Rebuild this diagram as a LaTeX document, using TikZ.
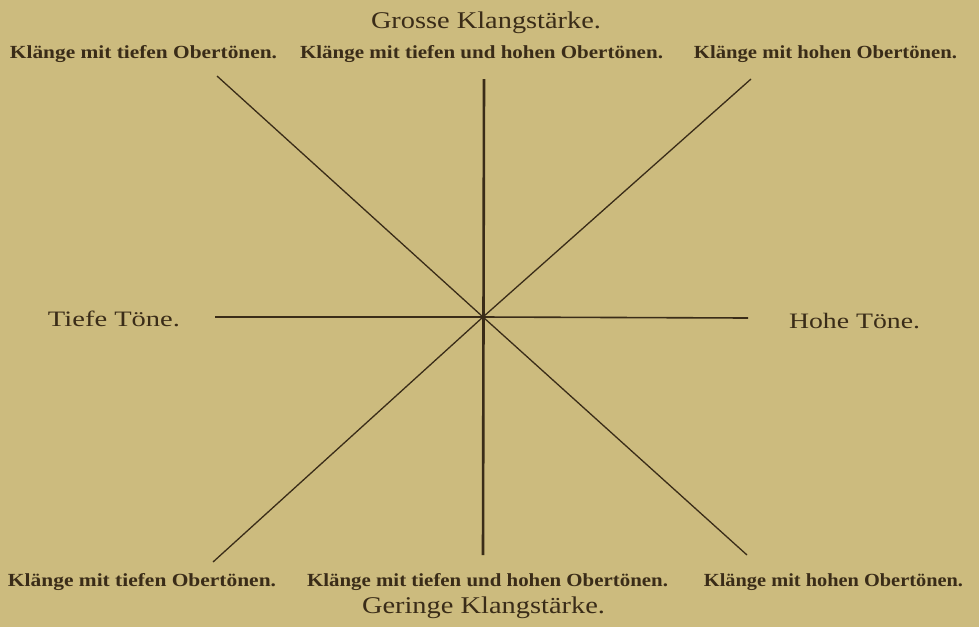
\documentclass[tikz,border=0pt]{standalone}
\usepackage{fontspec}
\usepackage{graphicx}
\setmainfont{Liberation Serif}
\definecolor{paper}{RGB}{204,187,126}
\definecolor{ink}{RGB}{58,44,24}
\newcommand\fitw[2]{\resizebox{#1pt}{\height}{#2}}
\begin{document}
\begin{tikzpicture}[x=1pt,y=-1pt,
  small/.style={anchor=base,inner sep=0pt,text=ink,font=\fontsize{18.5}{18.5}\selectfont\bfseries},
  head/.style={anchor=base,inner sep=0pt,text=ink,font=\fontsize{24}{24}\selectfont},
  side/.style={anchor=base,inner sep=0pt,text=ink,font=\fontsize{22}{22}\selectfont},
  axis/.style={draw=ink,line width=1.6pt},
  vaxis/.style={draw=ink,line width=2.6pt},
  diag/.style={draw=ink,line width=1.3pt}]
\fill[paper] (0,0) rectangle (979,627);
\useasboundingbox (0,0) rectangle (979,627);
% labels
\node[head] (gross) at (486,28) {\fitw{230}{Grosse Klangstärke.}};
\node[small] (tl) at (143.5,58) {\fitw{267}{Klänge mit tiefen Obertönen.}};
\node[small] (tm) at (481.5,58) {\fitw{363}{Klänge mit tiefen und hohen Obertönen.}};
\node[small] (tr) at (825.5,58) {\fitw{263}{Klänge mit hohen Obertönen.}};
\node[small] (bl) at (142,586) {\fitw{268}{Klänge mit tiefen Obertönen.}};
\node[small] (bm) at (487.5,586) {\fitw{361}{Klänge mit tiefen und hohen Obertönen.}};
\node[small] (br) at (833.5,586) {\fitw{259}{Klänge mit hohen Obertönen.}};
\node[head] (gering) at (483.5,613) {\fitw{243}{Geringe Klangstärke.}};
\node[side] (tief) at (114,326) {\fitw{132}{Tiefe Töne.}};
\node[side] (hoch) at (854.5,328) {\fitw{131}{Hohe Töne.}};
% axes
\coordinate (c) at (483,317);
\coordinate (ul) at (217,76);
\coordinate (ur) at (751,79);
\coordinate (ll) at (213,562);
\coordinate (lr) at (747,555);
\coordinate (vt) at (484,79);
\coordinate (vb) at (483,555);
\coordinate (hl) at (215,317);
\coordinate (hr) at (748,318);
\draw[axis] (hl) -- (c) -- (hr);
\draw[vaxis] (vt) -- (vb);
\draw[diag] (ul) -- (c) -- (lr);
\draw[diag] (ur) -- (c) -- (ll);
\end{tikzpicture}
\end{document}
